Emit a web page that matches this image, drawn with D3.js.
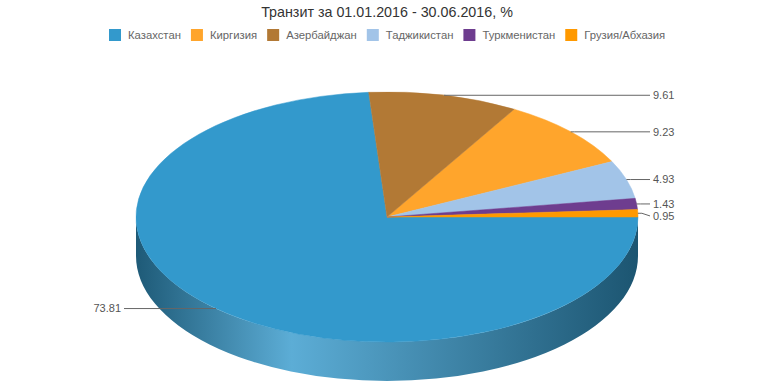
<!DOCTYPE html>
<html>
<head>
<meta charset="utf-8">
<script src="https://cdn.jsdelivr.net/npm/d3@7"></script>
<style>
  body { margin: 0; background: #fff; }
  svg { font-family: "Liberation Sans", Arial, Helvetica, sans-serif; }
</style>
</head>
<body>
<svg id="chart" width="774" height="387"></svg>
<script>
var title = 'Транзит за 01.01.2016 - 30.06.2016, %'
var categories = ['Казахстан', 'Киргизия', 'Азербайджан', 'Таджикистан', 'Туркменистан', 'Грузия/Абхазия']
var values = [73.81, 9.23, 9.61, 4.93, 1.43, 0.95]
var colors = ['#3399cc', '#ffa52c', '#b27935', '#a2c4e8', '#6e3d8f', '#ff9900']

var W = 774, H = 387
var pieCfg = { cx: 387, cy: 217, rx: 251, ry: 125, depth: 39 }

var svg = d3.select('#chart')
var color = d3.scaleOrdinal().domain(categories).range(colors)

var data = categories.map(function (c, i) { return { name: c, value: values[i] } })

renderTitle()
renderLegend()
renderPie()

function renderTitle () {
  svg.append('text')
      .attr('x', W / 2)
      .attr('y', 17)
      .attr('text-anchor', 'middle')
      .attr('font-size', 14.3)
      .attr('fill', '#333')
      .text(title)
}

function renderLegend () {
  var g = svg.append('g').attr('class', 'legend')
  var x = 0
  categories.forEach(function (c) {
    var item = g.append('g').attr('transform', 'translate(' + x + ',0)')
    item.append('rect')
        .attr('x', 0).attr('y', 29)
        .attr('width', 12).attr('height', 12)
        .attr('fill', color(c))
    var t = item.append('text')
        .attr('x', 19).attr('y', 39)
        .attr('font-size', 11.3)
        .attr('fill', '#666')
        .text(c)
    x += 19 + t.node().getComputedTextLength() + 10
  })
  x -= 10
  g.attr('transform', 'translate(' + Math.round((W - x) / 2) + ',0)')
}

// d3 angle (0 at 12 o'clock, clockwise) -> point on the tilted ellipse
function pt (a, dz) {
  var t = a - Math.PI / 2
  return [pieCfg.cx + pieCfg.rx * Math.cos(t), pieCfg.cy + pieCfg.ry * Math.sin(t) + (dz || 0)]
}

function topPath (d) {
  var p0 = pt(d.startAngle), p1 = pt(d.endAngle)
  var large = (d.endAngle - d.startAngle) > Math.PI ? 1 : 0
  return 'M' + pieCfg.cx + ',' + pieCfg.cy +
    'L' + p0 + 'A' + pieCfg.rx + ',' + pieCfg.ry + ' 0 ' + large + ' 1 ' + p1 + 'Z'
}

function sidePath (a0, a1) {
  var p0 = pt(a0), p1 = pt(a1)
  var b0 = pt(a0, pieCfg.depth), b1 = pt(a1, pieCfg.depth)
  var large = (a1 - a0) > Math.PI ? 1 : 0
  var r = pieCfg.rx + ',' + pieCfg.ry
  return 'M' + p0 + 'A' + r + ' 0 ' + large + ' 1 ' + p1 +
    'L' + b1 + 'A' + r + ' 0 ' + large + ' 0 ' + b0 + 'Z'
}

function renderPie () {
  var pie = d3.pie()
      .value(function (d) { return d.value })
      .startAngle(Math.PI / 2)
      .endAngle(Math.PI / 2 + 2 * Math.PI)
  var arcs = pie(data)

  var defs = svg.append('defs')
  arcs.forEach(function (d, i) {
    var base = d3.color(color(d.data.name))
    var grad = defs.append('linearGradient')
        .attr('id', 'side-' + i)
        .attr('gradientUnits', 'userSpaceOnUse')
        .attr('x1', pieCfg.cx - pieCfg.rx).attr('x2', pieCfg.cx + pieCfg.rx)
        .attr('y1', 0).attr('y2', 0)
    grad.append('stop').attr('offset', 0).attr('stop-color', base.darker(1.5))
    grad.append('stop').attr('offset', 0.31).attr('stop-color', d3.interpolateRgb(base, '#fff')(0.2))
    grad.append('stop').attr('offset', 1).attr('stop-color', base.darker(1.65))
  })

  // visible rim: front half of the ellipse, d3 angles PI/2 .. 3PI/2
  var sides = svg.append('g').attr('class', 'sides')
  arcs.forEach(function (d, i) {
    var a0 = Math.max(d.startAngle, Math.PI / 2)
    var a1 = Math.min(d.endAngle, 3 * Math.PI / 2)
    if (a1 <= a0) return
    sides.append('path')
        .attr('d', sidePath(a0, a1))
        .attr('fill', 'url(#side-' + i + ')')
  })

  svg.append('g').attr('class', 'tops')
    .selectAll('path')
    .data(arcs)
    .join('path')
      .attr('d', topPath)
      .attr('fill', function (d) { return color(d.data.name) })
      .attr('stroke', function (d) { return color(d.data.name) })
      .attr('stroke-width', 0.5)

  renderLabels(arcs)
}

function renderLabels (arcs) {
  var labels = arcs.map(function (d) {
    var mid = (d.startAngle + d.endAngle) / 2
    var p = pt(mid)
    var right = Math.sin(mid) >= 0
    return { d: d, p: p, right: right, y: p[1] }
  })

  ;[true, false].forEach(function (side) {
    var list = labels.filter(function (l) { return l.right === side })
        .sort(function (a, b) { return a.y - b.y })
    for (var i = 1; i < list.length; i++) {
      if (list[i].y - list[i - 1].y < 12) list[i].y = list[i - 1].y + 12
    }
  })

  var g = svg.append('g').attr('class', 'labels')
  labels.forEach(function (l) {
    var lineEnd = l.right ? pieCfg.cx + pieCfg.rx + 12 : pieCfg.cx - pieCfg.rx - 12
    var bend = l.p[0] + (l.right ? 4 : -4)
    g.append('path')
        .attr('d', 'M' + l.p + 'L' + bend + ',' + l.p[1] + 'L' + lineEnd + ',' + l.y)
        .attr('fill', 'none')
        .attr('stroke', '#666')
        .attr('stroke-width', 1)
    g.append('text')
        .attr('x', l.right ? lineEnd + 3 : lineEnd - 3)
        .attr('y', l.y)
        .attr('dy', '0.35em')
        .attr('text-anchor', l.right ? 'start' : 'end')
        .attr('font-size', 11)
        .attr('fill', '#555')
        .text(d3.format('.2f')(l.d.data.value))
  })
}
</script>
</body>
</html>
